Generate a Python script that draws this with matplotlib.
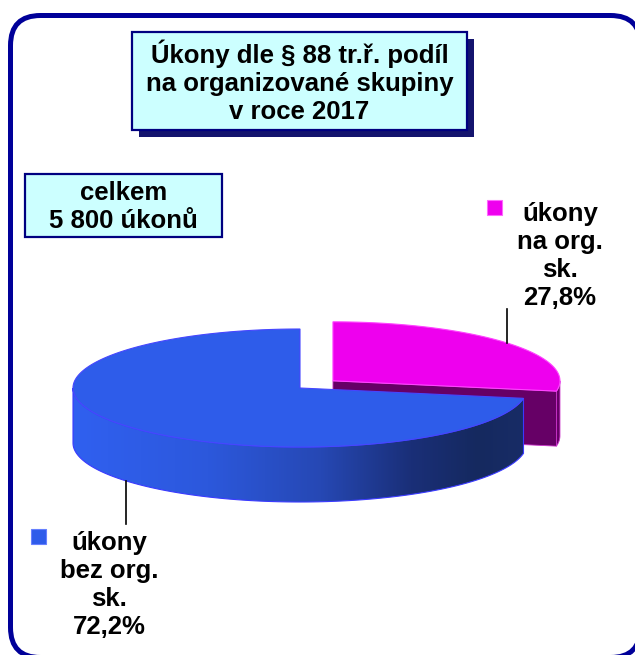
import matplotlib.pyplot as plt
import numpy as np
from matplotlib.patches import Polygon, Rectangle, FancyBboxPatch
from matplotlib.colors import LinearSegmentedColormap

# data
labels = ["úkony\nna org.\nsk.", "úkony\nbez org.\nsk."]
shares = [27.8, 72.2]
colors = ["#EE00EE", "#2E5CEA"]
side_colors = ["#660066", None]
title = "Úkony dle § 88 tr.ř. podíl\nna organizované skupiny\nv roce 2017"
total_text = "celkem\n5 800 úkonů"

plt.rcParams['font.family'] = ['Liberation Sans', 'DejaVu Sans']

fig = plt.figure(figsize=(6.35, 6.55), dpi=100)
ax = fig.add_axes([0, 0, 1, 1])
ax.set_xlim(0, 635)
ax.set_ylim(655, 0)
ax.axis('off')

# outer rounded frame
ax.add_patch(FancyBboxPatch((10.5, 15.5), 630, 642,
                            boxstyle="round,pad=0,rounding_size=30",
                            fc="white", ec="#000099", lw=3.6, zorder=0))

# pie geometry (pixel units)
cx, cy = 300, 388
rx, ry = 227, 59
depth = 55
explode = [43, 0]


def pt(x0, y0, th, dz=0):
    return x0 + rx * np.cos(th), y0 - ry * np.sin(th) + dz


angles = np.cumsum([0] + shares) / 100 * 2 * np.pi
starts = np.pi / 2 - angles[:-1]
ends = np.pi / 2 - angles[1:]
mids = (starts + ends) / 2

centers = []
for i in range(len(shares)):
    ox = cx + explode[i] * np.cos(mids[i])
    oy = cy - explode[i] * np.sin(mids[i]) * ry / rx
    centers.append((ox, oy))

# slice 0 (magenta): radial face at end angle, front outer side, top
ox, oy = centers[0]
a0, a1 = starts[0], ends[0]
p1 = pt(ox, oy, a1)
ax.add_patch(Polygon([(ox, oy), p1, (p1[0], p1[1] + depth), (ox, oy + depth)],
                     closed=True, fc=side_colors[0], ec="#CC33CC", lw=0.6, zorder=2))
th = np.linspace(a1, 0, 20)
xs, ys = pt(ox, oy, th)
ax.add_patch(Polygon(np.r_[np.c_[xs, ys], np.c_[xs[::-1], ys[::-1] + depth]],
                     closed=True, fc=side_colors[0], ec="#CC33CC", lw=0.6, zorder=2))
th = np.linspace(a0, a1, 100)
xs, ys = pt(ox, oy, th)
ax.add_patch(Polygon(np.r_[[(ox, oy)], np.c_[xs, ys]], closed=True,
                     fc=colors[0], ec="#FF44FF", lw=0.8, zorder=3))

# slice 1 (blue): front outer side with gradient, then top
ox, oy = centers[1]
a0, a1 = starts[1], ends[1]
th = np.linspace(a0, -np.pi, 150)
xs, ys = pt(ox, oy, th)
side = Polygon(np.r_[np.c_[xs, ys], np.c_[xs[::-1], ys[::-1] + depth]],
               closed=True, fc="none", ec="#3A3AFF", lw=0.8, zorder=5)
ax.add_patch(side)
grad_colors = ["#3060F0", "#2C58DC", "#2648B4", "#1A2F78", "#15295F", "#182C66"]
cmap = LinearSegmentedColormap.from_list("side", list(zip([0, 0.3, 0.55, 0.75, 0.9, 1.0], grad_colors)))
img = ax.imshow(np.linspace(0, 1, 256)[None, :], cmap=cmap, aspect='auto',
                extent=(xs.min(), xs.max(), ys.max() + depth, ys.min()), zorder=4)
img.set_clip_path(side)
th = np.linspace(a0, a1, 300)
xs, ys = pt(ox, oy, th)
ax.add_patch(Polygon(np.r_[[(ox, oy)], np.c_[xs, ys]], closed=True,
                     fc=colors[1], ec="#4646FF", lw=0.8, zorder=6))
ax.set_xlim(0, 635)
ax.set_ylim(655, 0)

# leader lines and labels
fs = 18.5
ls = 1.22
mx, my = pt(*centers[0], mids[0])
ax.plot([mx, mx], [my, my - 34], color="black", lw=1.2, zorder=7)
bx, by = pt(*centers[1], mids[1], depth)
ax.plot([bx, bx], [by, by + 43], color="black", lw=1.2, zorder=7)

pct = [f"{s:.1f}".replace(".", ",") + "%" for s in shares]
ax.text(560, 256, labels[0] + "\n" + pct[0],
        ha="center", va="center", fontsize=fs, fontweight="bold", linespacing=ls)
ax.add_patch(Rectangle((487, 200), 15, 15, fc=colors[0], ec="#FF66FF", lw=0.8))
ax.text(109, 585, labels[1] + "\n" + pct[1],
        ha="center", va="center", fontsize=fs, fontweight="bold", linespacing=ls)
ax.add_patch(Rectangle((31, 529), 15, 15, fc=colors[1], ec="#6680FF", lw=0.8))

# title box with shadow
ax.add_patch(Rectangle((139, 39), 335, 98, fc="#14146E", ec="none", zorder=1))
ax.add_patch(Rectangle((132, 32), 335, 98, fc="#CCFFFF", ec="#000080", lw=1.6, zorder=2))
ax.text(299.5, 82, title, ha="center", va="center", fontsize=fs,
        fontweight="bold", linespacing=ls, zorder=3)

# total box
ax.add_patch(Rectangle((25, 174), 197, 63, fc="#CCFFFF", ec="#000080", lw=1.6, zorder=2))
ax.text(123.5, 207, total_text, ha="center", va="center", fontsize=fs,
        fontweight="bold", linespacing=ls, zorder=3)

fig.savefig("out.png", dpi=100)
